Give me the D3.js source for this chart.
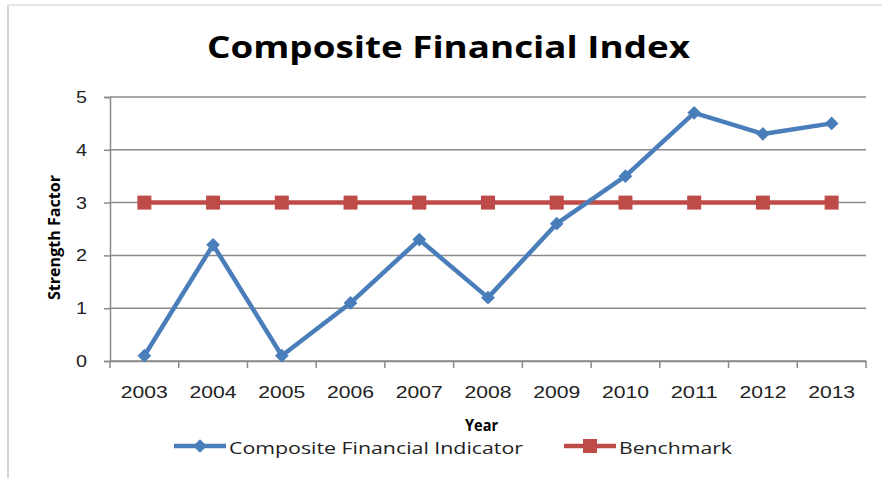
<!DOCTYPE html>
<html>
<head>
<meta charset="utf-8">
<script src="https://cdn.jsdelivr.net/npm/d3@7"></script>
<style>
body { margin: 0; background: #fff; }
svg { font-family: "Open Sans", "Liberation Sans", sans-serif; }
</style>
</head>
<body>
<svg id="chart" width="882" height="478"></svg>
<script>
// data
var years = ["2003", "2004", "2005", "2006", "2007", "2008", "2009", "2010", "2011", "2012", "2013"];
var composite = [0.1, 2.2, 0.1, 1.1, 2.3, 1.2, 2.6, 3.5, 4.7, 4.3, 4.5];
var benchmark = [3, 3, 3, 3, 3, 3, 3, 3, 3, 3, 3];
var yTicks = [0, 1, 2, 3, 4, 5];

var blue = "#4a7ebb", red = "#be4b48", grid = "#8a8a8a";

var svg = d3.select("#chart");
var margin = {left: 110, right: 16, top: 97, bottom: 117};
var width = 882 - margin.left - margin.right;
var height = 478 - margin.top - margin.bottom;

// chart frame (left and top edge visible)
svg.append("line").attr("x1", 8).attr("x2", 8).attr("y1", 5).attr("y2", 478)
	.attr("stroke", "#c8c8c8").attr("stroke-width", 1.5);
svg.append("line").attr("x1", 8).attr("x2", 882).attr("y1", 5).attr("y2", 5)
	.attr("stroke", "#dcdcdc").attr("stroke-width", 1.5);

var g = svg.append("g")
	.attr("transform", "translate(" + margin.left + "," + margin.top + ")");

var xScale = d3.scaleBand().domain(years).range([0, width]);
var yScale = d3.scaleLinear().domain([0, 5]).range([height, 0]);

// gridlines
g.selectAll("line.grid")
	.data(yTicks)
	.enter().append("line")
	.attr("class", "grid")
	.attr("x1", 0).attr("x2", width)
	.attr("y1", function(d){return yScale(d);})
	.attr("y2", function(d){return yScale(d);})
	.attr("stroke", grid).attr("stroke-width", 1.5);

// y axis
var yAxis = g.append("g")
	.call(d3.axisLeft(yScale).tickValues(yTicks).tickFormat(d3.format("d")).tickSize(6).tickPadding(17));
yAxis.select(".domain").attr("stroke", grid).attr("stroke-width", 1.5);
yAxis.selectAll(".tick line").attr("stroke", grid).attr("stroke-width", 1.5);
yAxis.selectAll("text").attr("font-size", 17).attr("fill", "#222")
	.attr("textLength", 11).attr("lengthAdjust", "spacingAndGlyphs");

// x axis with ticks on band boundaries
var xAxis = g.append("g")
	.attr("transform", "translate(0," + height + ")")
	.call(d3.axisBottom(xScale).tickSize(0).tickPadding(25));
xAxis.select(".domain").attr("stroke", grid).attr("stroke-width", 1.5);
xAxis.selectAll("text").attr("font-size", 16.5).attr("fill", "#222")
	.attr("textLength", 47).attr("lengthAdjust", "spacingAndGlyphs");
g.selectAll("line.xtick")
	.data(years.concat(["end"]))
	.enter().append("line")
	.attr("class", "xtick")
	.attr("x1", function(d, i){return i * xScale.step();})
	.attr("x2", function(d, i){return i * xScale.step();})
	.attr("y1", height).attr("y2", height + 7)
	.attr("stroke", grid).attr("stroke-width", 1.5);

function cx(d, i){return xScale(years[i]) + xScale.bandwidth() / 2;}

var line = d3.line()
	.x(function(d, i){return cx(d, i);})
	.y(function(d){return yScale(d);});

// benchmark series
g.append("path")
	.attr("d", line(benchmark))
	.attr("fill", "none").attr("stroke", red).attr("stroke-width", 4.5);
g.selectAll("rect.bm")
	.data(benchmark)
	.enter().append("rect")
	.attr("class", "bm")
	.attr("x", function(d, i){return cx(d, i) - 7;})
	.attr("y", function(d){return yScale(d) - 7;})
	.attr("width", 14).attr("height", 14)
	.attr("fill", red);

// composite series
g.append("path")
	.attr("d", line(composite))
	.attr("fill", "none").attr("stroke", blue).attr("stroke-width", 4.5)
	.attr("stroke-linejoin", "round");
var diamond = d3.symbol().type(d3.symbolDiamond2).size(120);
g.selectAll("path.cfi")
	.data(composite)
	.enter().append("path")
	.attr("class", "cfi")
	.attr("d", diamond)
	.attr("transform", function(d, i){return "translate(" + cx(d, i) + "," + yScale(d) + ")";})
	.attr("fill", blue);

// titles
svg.append("text")
	.attr("x", 207).attr("y", 58)
	.attr("font-size", 31).attr("font-weight", "bold").attr("fill", "#000")
	.attr("textLength", 483).attr("lengthAdjust", "spacingAndGlyphs")
	.text("Composite Financial Index");

svg.append("text")
	.attr("transform", "translate(60,300) rotate(-90)")
	.attr("font-size", 15.5).attr("font-weight", "bold").attr("fill", "#000")
	.attr("textLength", 125).attr("lengthAdjust", "spacingAndGlyphs")
	.text("Strength Factor");

svg.append("text")
	.attr("x", 465).attr("y", 431)
	.attr("font-size", 16).attr("font-weight", "bold").attr("fill", "#000")
	.attr("textLength", 33).attr("lengthAdjust", "spacingAndGlyphs")
	.text("Year");

// legend
var legendItems = [
	{name: "Composite Financial Indicator", color: blue, x: 174, len: 294, marker: "diamond"},
	{name: "Benchmark", color: red, x: 564, len: 113, marker: "square"}
];
var lg = svg.selectAll("g.legend")
	.data(legendItems)
	.enter().append("g")
	.attr("class", "legend")
	.attr("transform", function(d){return "translate(" + d.x + ",446)";});
lg.append("line")
	.attr("x1", 0).attr("x2", 52).attr("y1", 0).attr("y2", 0)
	.attr("stroke", function(d){return d.color;}).attr("stroke-width", 4.5);
lg.append("path")
	.attr("d", function(d){
		return d.marker === "diamond" ? diamond() : d3.symbol().type(d3.symbolSquare).size(196)();
	})
	.attr("transform", "translate(26,0)")
	.attr("fill", function(d){return d.color;});
lg.append("text")
	.attr("x", 55).attr("y", 8)
	.attr("font-size", 17).attr("fill", "#222")
	.attr("textLength", function(d){return d.len;}).attr("lengthAdjust", "spacingAndGlyphs")
	.text(function(d){return d.name;});
</script>
</body>
</html>
